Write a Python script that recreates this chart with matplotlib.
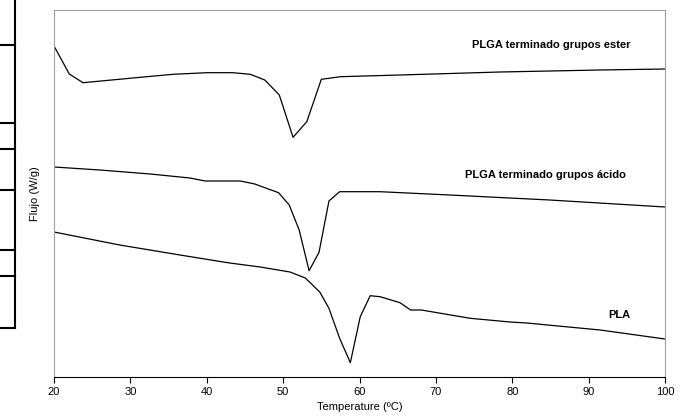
import matplotlib.pyplot as plt
from matplotlib.lines import Line2D

plt.rcParams['font.family'] = ['Liberation Sans', 'DejaVu Sans']

# curvas DSC (unidades arbitrarias de flujo)
temp_ester = [20, 22, 23.8, 31.3, 35.6, 40, 43.4, 45.7, 47.6, 49.5, 51.3, 53.1, 55.0, 57.5, 65.3, 78.4, 91.5, 100]
flujo_ester = [331, 303, 294.3, 299.7, 302.7, 304.3, 304.3, 302.7, 297, 282, 239.7, 255.3, 297.7, 300.3, 302, 305, 307, 308]

temp_acido = [20, 26.0, 32.6, 37.8, 39.8, 44.4, 46.3, 47.0, 49.4, 50.8, 52.1, 53.4, 54.7, 56.0, 57.4, 62.7, 71.8, 84.9, 100]
flujo_acido = [210, 207, 203, 199, 196, 196, 193, 191, 184.3, 172, 147, 106.3, 124.7, 176, 185.3, 185.3, 182, 177, 170]

temp_pla = [20, 28.6, 36.5, 43.0, 47.0, 50.9, 52.9, 54.8, 56.0, 57.4, 58.8, 60.1, 61.4, 62.7, 65.3, 66.7, 68.1, 71.4, 74.5, 79.7, 81.9, 91.5, 100]
flujo_pla = [145, 132, 122, 114, 110, 105, 99, 85, 68.7, 38.7, 14.3, 60.3, 81.3, 80.3, 74.3, 67, 67, 62.7, 58.7, 55, 54, 47, 38]

etiquetas = ['PLGA terminado grupos ester', 'PLGA terminado grupos ácido', 'PLA']
pos_etiquetas = [(85.1, 332), (84.4, 202), (94.0, 62)]
xticks = [20, 30, 40, 50, 60, 70, 80, 90, 100]

fig = plt.figure(figsize=(6.83, 4.16), dpi=100)
ax = fig.add_axes([54 / 683, 1 - 377 / 416, 611 / 683, 367.5 / 416])

for t, f in [(temp_ester, flujo_ester), (temp_acido, flujo_acido), (temp_pla, flujo_pla)]:
    ax.plot(t, f, color='black', linewidth=0.9)

for txt, (x, y) in zip(etiquetas, pos_etiquetas):
    ax.text(x, y, txt, ha='center', va='center', fontsize=8, fontweight='bold')

ax.set_xlim(20, 100)
ax.set_ylim(0, 367.5)
ax.set_xticks(xticks)
ax.set_yticks([])
ax.tick_params(axis='x', direction='out', length=4, width=0.8, labelsize=8, pad=3)
for s in ['top', 'left', 'right']:
    ax.spines[s].set_color('#a0a0a0')
ax.spines['bottom'].set_color('black')
ax.set_xlabel('Temperature (ºC)', fontsize=8, labelpad=4)
ax.set_ylabel('Flujo (W/g)', fontsize=8, labelpad=10)

# restos de la tabla del documento en el borde izquierdo
W, H = 683, 416
def px(x, y):
    return x / W, 1 - y / H

xs, ys = zip(px(15, 0), px(15, 328))
fig.add_artist(Line2D(xs, ys, color='black', linewidth=1.5))
for yy in [45, 123, 149, 190, 250, 276, 328]:
    xs, ys = zip(px(0, yy), px(15, yy))
    fig.add_artist(Line2D(xs, ys, color='black', linewidth=1.5))

fig.savefig('out.png', dpi=100)
